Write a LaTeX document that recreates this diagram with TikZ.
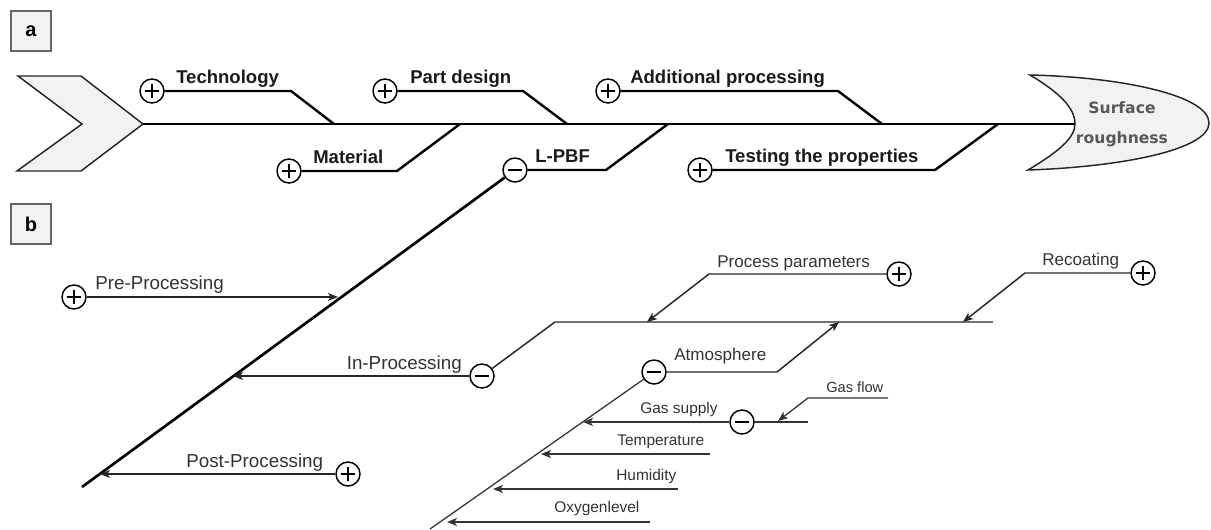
\documentclass[tikz,border=0pt]{standalone}
\usepackage{fontspec}
\setmainfont{Liberation Sans}
\newfontfamily\dvs{DejaVu Sans}
\usetikzlibrary{arrows.meta}
\definecolor{fillg}{HTML}{F2F2F2}
\definecolor{txtb}{HTML}{333333}
\definecolor{txta}{HTML}{1A1A1A}
\definecolor{boxg}{HTML}{666666}
\begin{document}
\begin{tikzpicture}[x=0.75pt,y=-0.75pt,
  pmc/.style={circle,draw,line width=1.1pt,minimum size=18pt,inner sep=0pt,fill=white},
  plus/.style={pmc,path picture={\draw[line width=0.9pt]
     ([xshift=-5.5pt]path picture bounding box.center) -- ([xshift=5.5pt]path picture bounding box.center)
     ([yshift=-5.5pt]path picture bounding box.center) -- ([yshift=5.5pt]path picture bounding box.center);}},
  minus/.style={pmc,path picture={\draw[line width=0.9pt]
     ([xshift=-5.5pt]path picture bounding box.center) -- ([xshift=5.5pt]path picture bounding box.center);}},
  la/.style={anchor=base west,inner sep=0pt,font=\bfseries\fontsize{13.9}{16}\selectfont,text=txta},
  lb/.style={anchor=base west,inner sep=0pt,font=\fontsize{14.1}{17}\selectfont,text=txtb},
  lc/.style={anchor=base west,inner sep=0pt,font=\fontsize{12.8}{15}\selectfont,text=txtb},
  ld/.style={anchor=base west,inner sep=0pt,font=\fontsize{11.6}{14}\selectfont,text=txtb},
  tag/.style={draw=boxg,line width=1.6pt,fill=fillg,minimum size=30pt,inner sep=0pt,font=\bfseries\fontsize{15}{18}\selectfont},
  shapeline/.style={draw=black!85,line width=1.1pt,fill=fillg},
  spine/.style={line width=2pt,line join=round},
  bra/.style={line width=1.8pt,line join=round},
  thin/.style={line width=1.1pt,draw=black!85,line join=round},
  thinner/.style={line width=0.95pt,draw=black!80,line join=round},
  arr/.style={-{Stealth[length=7.5pt,width=6pt,inset=2pt]}}
]
\useasboundingbox (0,0) rectangle (1211,529);

% ---------- part a ----------
\node[tag] (taga) at (31,31) {a};

\path[shapeline] (18,76) -- (81,76) -- (143,124) -- (81,171) -- (17,171) -- (82,124) -- cycle;
\coordinate (tail) at (143,124);
\path[shapeline] (1030,75) .. controls (1120,77) and (1209,95) .. (1209,123)
   .. controls (1209,150) and (1120,167) .. (1028,170)
   .. controls (1058,152) and (1075,138) .. (1075,124)
   .. controls (1075,108) and (1060,93) .. cycle;
\coordinate (head) at (1075,124);
\node[font=\dvs\bfseries\fontsize{11.7}{22.5}\selectfont,text=black!65,align=center,inner sep=0pt] (surf) at (1122,124) {Surface\\roughness};
\draw[spine] (tail) -- (head);

% top branches
\node[plus] (ctech) at (152,91) {};
\coordinate (btech) at (291,91); \coordinate (jtech) at (334,124);
\draw[bra] (ctech) -- (btech) -- (jtech);
\node[la] (ltech) at (176,83) {Technology};

\node[plus] (cpart) at (385,91) {};
\coordinate (bpart) at (523,91); \coordinate (jpart) at (567,124);
\draw[bra] (cpart) -- (bpart) -- (jpart);
\node[la] (lpart) at (410,83) {Part design};

\node[plus] (cadd) at (608,91) {};
\coordinate (badd) at (838,91); \coordinate (jadd) at (882,124);
\draw[bra] (cadd) -- (badd) -- (jadd);
\node[la] (ladd) at (630,83) {Additional processing};

% bottom branches
\node[plus] (cmat) at (289,171) {};
\coordinate (bmat) at (397,171); \coordinate (jmat) at (460,124);
\draw[bra] (cmat) -- (bmat) -- (jmat);
\node[la] (lmat) at (313,163) {Material};

\node[minus] (clpbf) at (515,170) {};
\coordinate (blpbf) at (606,170); \coordinate (jlpbf) at (668,124);
\draw[bra] (clpbf) -- (blpbf) -- (jlpbf);
\node[la] (llpbf) at (535,162) {L-PBF};

\node[plus] (ctest) at (700,170) {};
\coordinate (btest) at (935,170); \coordinate (jtest) at (998,124);
\draw[bra] (ctest) -- (btest) -- (jtest);
\node[la] (ltest) at (725,162) {Testing the properties};

% ---------- part b ----------
\node[tag] (tagb) at (31,224) {b};

\coordinate (dend) at (82,487);
\draw[spine] (clpbf) -- (dend);
\coordinate (jpre) at (338,297);
\coordinate (jin) at (233,376);
\coordinate (jpost) at (100,474);

\node[plus] (cpre) at (74,297) {};
\draw[thin,arr] (cpre) -- (jpre);
\node[lb] (lpre) at (95,289) {Pre-Processing};

\node[minus] (cin) at (482,376) {};
\draw[thin,arr] (cin) -- (jin);
\node[lb,anchor=base east] (lin) at (462,369) {In-Processing};

\node[plus] (cpost) at (348,474) {};
\draw[thin,arr] (cpost) -- (jpost);
\node[lb] (lpost) at (186,467) {Post-Processing};

% In-processing sub-diagram
\coordinate (ibend) at (555,322);
\coordinate (iend) at (993,322);
\draw[thin] (cin) -- (ibend) -- (iend);

\node[plus] (cpp) at (899,274) {};
\coordinate (bpp) at (709,274); \coordinate (jpp) at (647,322);
\draw[thin,arr] (cpp) -- (bpp) -- (jpp);
\node[lc] (lpp) at (717,267) {Process parameters};

\node[plus] (crec) at (1143,273) {};
\coordinate (brec) at (1025,273); \coordinate (jrec) at (963,322);
\draw[thin,arr] (crec) -- (brec) -- (jrec);
\node[lc] (lrec) at (1042,265) {Recoating};

\node[minus] (catm) at (654,372) {};
\coordinate (batm) at (777,372); \coordinate (jatm) at (839,322);
\draw[thin,arr] (catm) -- (batm) -- (jatm);
\node[lc] (latm) at (674,360) {Atmosphere};

% Atmosphere sub-diagram
\coordinate (aend) at (430,529);
\draw[thinner] (catm) -- (aend);
\coordinate (jgas) at (583,422);
\coordinate (jtemp) at (541,454);
\coordinate (jhum) at (493,489);
\coordinate (joxy) at (447,522);

\node[minus] (cgas) at (742,422) {};
\coordinate (gsr) at (808,422);
\draw[thinner] (gsr) -- (cgas);
\draw[thinner,arr] (cgas) -- (jgas);
\node[ld] (lgas) at (640,413) {Gas supply};

\coordinate (gfr) at (888,398); \coordinate (gfb) at (808,398); \coordinate (jgf) at (778,421);
\draw[thinner,arr] (gfr) -- (gfb) -- (jgf);
\node[ld,font=\fontsize{11}{13}\selectfont] (lgf) at (826,392) {Gas flow};

\coordinate (tr) at (710,454);
\draw[thinner,arr] (tr) -- (jtemp);
\node[ld] (ltemp) at (617,445) {Temperature};

\coordinate (hr) at (678,489);
\draw[thinner,arr] (hr) -- (jhum);
\node[ld] (lhum) at (616,480) {Humidity};

\coordinate (orr) at (650,522);
\draw[thinner,arr] (orr) -- (joxy);
\node[ld] (loxy) at (554,512) {Oxygenlevel};
\end{tikzpicture}
\end{document}
